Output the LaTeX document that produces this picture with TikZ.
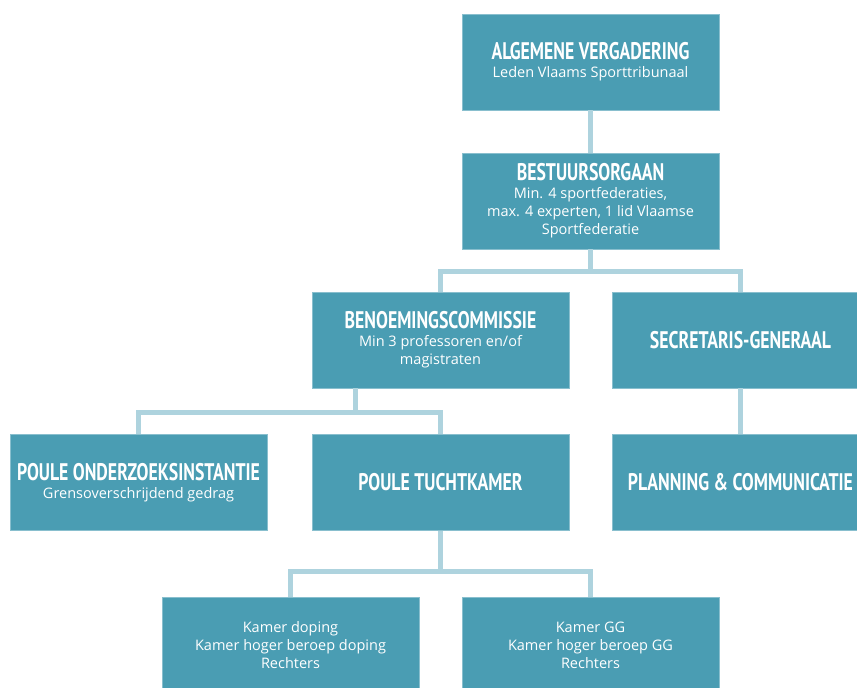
\documentclass[tikz,border=0pt]{standalone}
\usepackage{fontspec}
\setmainfont{Open Sans}
\newfontfamily\headfont[FakeStretch=0.74]{PT Sans}
\usetikzlibrary{positioning}
\definecolor{boxteal}{HTML}{4A9DB3}
\definecolor{linkblue}{HTML}{AED3DE}
\newcommand\boxtitle[1]{{\headfont\bfseries\fontsize{24}{24}\selectfont #1}}
\newcommand\boxtext{\fontsize{14.5}{18}\selectfont}
\tikzset{
    % One body of the tribunal, a plain filled block
    orgbox/.style={
        fill=boxteal, draw=boxteal!65!white, line width=0.8pt,
        text=white, align=center, font=\boxtext,
        minimum width=257pt, minimum height=96pt, inner sep=0pt},
%
    % The light elbow lines that join the bodies
    link/.style={draw=linkblue, line width=5pt}}

\begin{document}
\begin{tikzpicture}[x=1pt, y=-1pt]

\clip (0,0) rectangle (857,688);

\node [orgbox] (algemene) at (590.5,62)
    {\boxtitle{ALGEMENE VERGADERING}\\ Leden Vlaams Sporttribunaal};
\node [orgbox] (bestuur) at (590.5,201)
    {\boxtitle{BESTUURSORGAAN}\\ Min. 4 sportfederaties,\\
     max. 4 experten, 1 lid Vlaamse\\ Sportfederatie};

\node [orgbox] (benoeming) at (440.5,340)
    {\boxtitle{BENOEMINGSCOMMISSIE}\\ Min 3 professoren en/of\\ magistraten};
\node [orgbox] (secretaris) at (740.5,340)
    {\boxtitle{SECRETARIS-GENERAAL}};

\node [orgbox] (onderzoek) at (138.5,482.5)
    {\boxtitle{POULE ONDERZOEKSINSTANTIE}\\ Grensoverschrijdend gedrag};
\node [orgbox] (tuchtkamer) at (440.5,482.5)
    {\boxtitle{POULE TUCHTKAMER}};
\node [orgbox] (planning) at (740.5,482.5)
    {\boxtitle{PLANNING \& COMMUNICATIE}};

\node [orgbox] (doping) at (290.5,645)
    {Kamer doping\\ Kamer hoger beroep doping\\ Rechters};
\node [orgbox] (gg) at (590.5,645)
    {Kamer GG\\ Kamer hoger beroep GG\\ Rechters};

\draw [link] (algemene) -- (bestuur);
\draw [link]
    (bestuur.south) -- ++(0,22) -| (benoeming.north)
    (bestuur.south) -- ++(0,22) -| (secretaris.north);
\draw [link]
    ([xshift=-85pt]benoeming.south) -- ++(0,24) -| (onderzoek.north)
    ([xshift=-85pt]benoeming.south) -- ++(0,24) -| (tuchtkamer.north);
\draw [link] (secretaris) -- (planning);
\draw [link]
    (tuchtkamer.south) -- ++(0,41) -| (doping.north)
    (tuchtkamer.south) -- ++(0,41) -| (gg.north);

\end{tikzpicture}
\end{document}
